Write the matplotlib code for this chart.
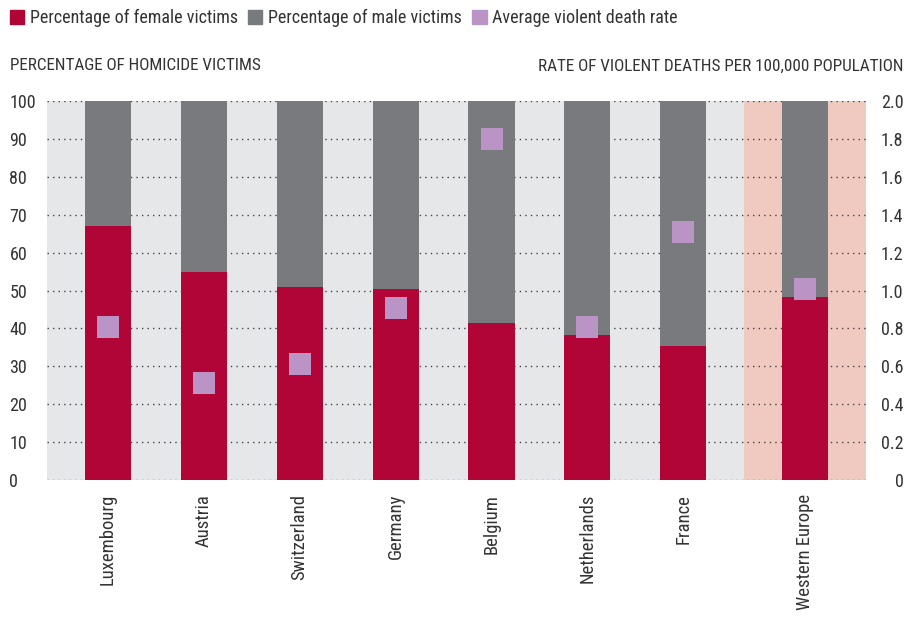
import matplotlib
matplotlib.use("Agg")
import matplotlib.pyplot as plt
from matplotlib.patches import Patch

plt.rcParams["font.family"] = ["DejaVu Sans Condensed", "Roboto Condensed", "Liberation Sans Narrow", "Roboto"]

countries = ["Luxembourg", "Austria", "Switzerland", "Germany", "Belgium",
             "Netherlands", "France", "Western Europe"]
female_pct = [67, 55, 51, 50.4, 41.4, 38.3, 35.4, 48.3]
violent_rate = [0.81, 0.51, 0.61, 0.91, 1.80, 0.81, 1.31, 1.01]
left_ticks = [0, 10, 20, 30, 40, 50, 60, 70, 80, 90, 100]
right_ticks = [0, 0.2, 0.4, 0.6, 0.8, 1.0, 1.2, 1.4, 1.6, 1.8, 2.0]
right_labels = ["0", "0.2", "0.4", "0.6", "0.8", "1.0", "1.2", "1.4", "1.6", "1.8", "2.0"]

FEMALE = "#b10538"
MALE = "#797a7e"
RATE = "#b994c4"
BG = "#e6e7e9"
PINK = "#f0c9c1"
TXT = "#333333"

male_pct = [100 - f for f in female_pct]
# last group sits a bit apart from the countries
xpos = [0, 1, 2, 3, 4, 5, 6, 7.27]

fig = plt.figure(figsize=(9.06, 6.19), dpi=100)
ax = fig.add_axes([47 / 906, 139 / 619, 819 / 906, 379 / 619])
ax.set_facecolor(BG)
ax.set_xlim(-0.635, 7.905)
ax.set_ylim(0, 100)
ax.axvspan(xpos[-1] - 0.635, xpos[-1] + 0.635, color=PINK, zorder=0, lw=0)

for y in left_ticks:
    ax.axhline(y, color="#444444", lw=1.0, ls=(0, (1, 3)), zorder=1)

w = 0.48
ax.bar(xpos, female_pct, width=w, color=FEMALE, zorder=2, lw=0)
ax.bar(xpos, male_pct, width=w, bottom=female_pct, color=MALE, zorder=2, lw=0)

for s in ax.spines.values():
    s.set_visible(False)
ax.set_xticks(xpos)
ax.set_xticklabels(countries, rotation=90, fontsize=13.4, color=TXT, va="top")
ax.tick_params(axis="x", length=0, pad=10)
ax.set_yticks(left_ticks)
ax.set_yticklabels([str(t) for t in left_ticks], fontsize=13, color=TXT)
ax.tick_params(axis="y", length=0, pad=27)
for lab in ax.get_yticklabels():
    lab.set_horizontalalignment("left")

ax2 = ax.twinx()
ax2.set_ylim(0, 2)
ax2.plot(xpos, violent_rate, ls="none", marker="s", ms=16.5, color=RATE,
         mew=0, zorder=5)
for s in ax2.spines.values():
    s.set_visible(False)
ax2.set_yticks(right_ticks)
ax2.set_yticklabels(right_labels, fontsize=13, color=TXT)
ax2.tick_params(axis="y", length=0, pad=27)
for lab in ax2.get_yticklabels():
    lab.set_horizontalalignment("right")

fig.text(10 / 906, 1 - 66 / 619, "PERCENTAGE OF HOMICIDE VICTIMS", fontsize=12.3,
         color=TXT, va="center", ha="left")
fig.text(903 / 906, 1 - 66 / 619, "RATE OF VIOLENT DEATHS PER 100,000 POPULATION",
         fontsize=12.3, color=TXT, va="center", ha="right")

handles = [Patch(color=FEMALE, label="Percentage of female victims"),
           Patch(color=MALE, label="Percentage of male victims"),
           Patch(color=RATE, label="Average violent death rate")]
fig.legend(handles=handles, loc="upper left", bbox_to_anchor=(10 / 906, 1 - 9 / 619),
           ncol=3, frameon=False, fontsize=13, handlelength=0.78, handleheight=0.78,
           handletextpad=0.3, columnspacing=0.6, labelcolor=TXT,
           borderpad=0, borderaxespad=0)

fig.savefig("out.png", dpi=100)
